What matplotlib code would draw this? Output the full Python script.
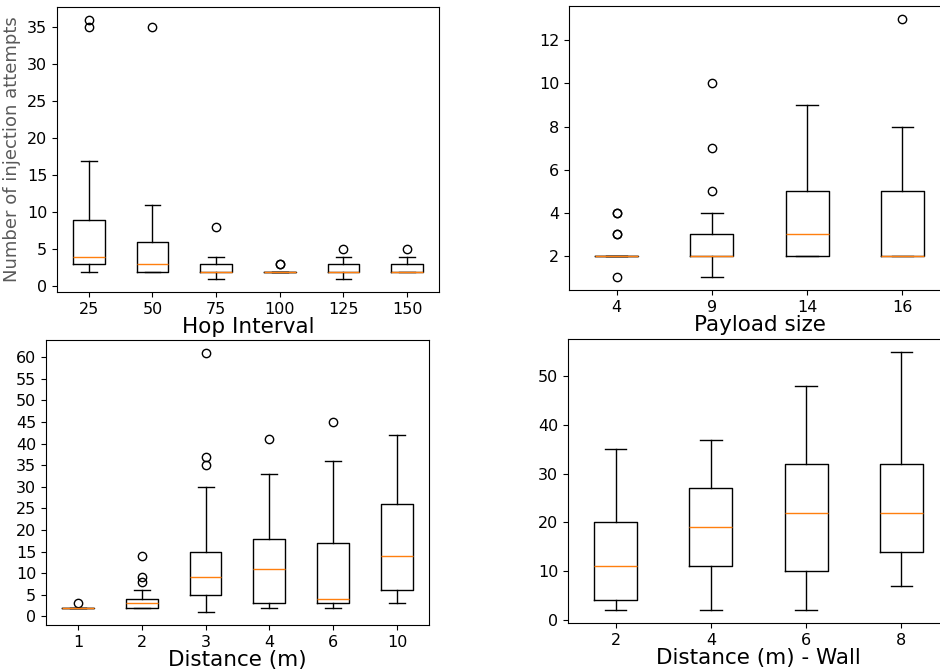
import matplotlib
matplotlib.use("Agg")
import matplotlib.pyplot as plt
from matplotlib.ticker import MultipleLocator

# hop interval panel
hop_labels = ["25", "50", "75", "100", "125", "150"]
hop_whislo = [2, 2, 1, 2, 1, 2]
hop_q1 = [3, 2, 2, 2, 2, 2]
hop_med = [4, 3, 2, 2, 2, 2]
hop_q3 = [9, 6, 3, 2, 3, 3]
hop_whishi = [17, 11, 4, 2, 4, 4]
hop_fliers = [[35, 36], [35], [8], [3, 3], [5], [5]]

# payload size panel
pay_labels = ["4", "9", "14", "16"]
pay_whislo = [2, 1, 2, 2]
pay_q1 = [2, 2, 2, 2]
pay_med = [2, 2, 3, 2]
pay_q3 = [2, 3, 5, 5]
pay_whishi = [2, 4, 9, 8]
pay_fliers = [[1, 3, 3, 4, 4], [5, 7, 10], [], [13]]

# distance panel
dist_labels = ["1", "2", "3", "4", "6", "10"]
dist_whislo = [2, 2, 1, 2, 2, 3]
dist_q1 = [2, 2, 5, 3, 3, 6]
dist_med = [2, 3, 9, 11, 4, 14]
dist_q3 = [2, 4, 15, 18, 17, 26]
dist_whishi = [2, 6, 30, 33, 36, 42]
dist_fliers = [[3], [8, 9, 14], [35, 37, 61], [41], [45], []]

# distance with wall panel
wall_labels = ["2", "4", "6", "8"]
wall_whislo = [2, 2, 2, 7]
wall_q1 = [4, 11, 10, 14]
wall_med = [11, 19, 22, 22]
wall_q3 = [20, 27, 32, 32]
wall_whishi = [35, 37, 48, 55]
wall_fliers = [[], [], [], []]


def make_stats(labels, whislo, q1, med, q3, whishi, fliers):
    stats = []
    for i in range(len(labels)):
        stats.append({"label": labels[i], "whislo": whislo[i], "q1": q1[i],
                      "med": med[i], "q3": q3[i], "whishi": whishi[i],
                      "fliers": fliers[i]})
    return stats


def draw(ax, stats, xlabel, step):
    ax.bxp(stats)
    ax.yaxis.set_major_locator(MultipleLocator(step))
    ax.tick_params(labelsize=11.5)
    ax.set_xlabel(xlabel, fontsize=15.5, labelpad=0)


fig = plt.figure(figsize=(9.4, 6.71), dpi=100)

ax1 = fig.add_axes([0.0606, 0.5648, 0.4064, 0.4247])
draw(ax1, make_stats(hop_labels, hop_whislo, hop_q1, hop_med, hop_q3, hop_whishi, hop_fliers),
     "Hop Interval", 5)
ax1.set_ylabel("Number of injection attempts", fontsize=13, color="#5a5a5a")

ax2 = fig.add_axes([0.6053, 0.5678, 0.4053, 0.4232])
draw(ax2, make_stats(pay_labels, pay_whislo, pay_q1, pay_med, pay_q3, pay_whishi, pay_fliers),
     "Payload size", 2)

ax3 = fig.add_axes([0.0489, 0.0686, 0.4074, 0.4247])
draw(ax3, make_stats(dist_labels, dist_whislo, dist_q1, dist_med, dist_q3, dist_whishi, dist_fliers),
     "Distance (m)", 5)

ax4 = fig.add_axes([0.6043, 0.0715, 0.4053, 0.4232])
draw(ax4, make_stats(wall_labels, wall_whislo, wall_q1, wall_med, wall_q3, wall_whishi, wall_fliers),
     "Distance (m) - Wall", 10)

fig.savefig("out.png", dpi=100)
